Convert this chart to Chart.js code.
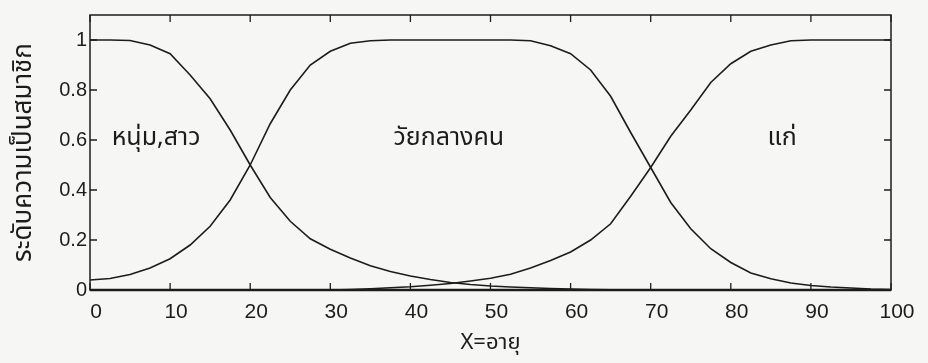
<!DOCTYPE html>
<html>
<head>
<meta charset="utf-8">
<script src="https://cdn.jsdelivr.net/npm/chart.js@4.4.1/dist/chart.umd.min.js"></script>
<style>
  html, body { margin: 0; padding: 0; background: #f6f6f4; }
  #wrap { width: 928px; height: 363px; }
</style>
</head>
<body>
<div id="wrap"><canvas id="c" width="928" height="363"></canvas></div>
<script>
// Age axis (years) and membership degrees of the three fuzzy sets
const ages = [0, 2.5, 5, 7.5, 10, 12.5, 15, 17.5, 20, 22.5, 25, 27.5, 30, 32.5, 35, 37.5, 40,
  42.5, 45, 47.5, 50, 52.5, 55, 57.5, 60, 62.5, 65, 67.5, 70, 72.5, 75, 77.5, 80, 82.5, 85,
  87.5, 90, 92.5, 95, 97.5, 100];

const young = [1, 1, 0.998, 0.98, 0.945, 0.86, 0.765, 0.64, 0.5, 0.37, 0.275, 0.205, 0.163,
  0.128, 0.097, 0.074, 0.056, 0.042, 0.03, 0.022, 0.016, 0.012, 0.009, 0.006, 0.004, 0.002,
  0.001, 0, 0, 0, 0, 0, 0, 0, 0, 0, 0, 0, 0, 0, 0];

const middleAged = [0.04, 0.046, 0.062, 0.088, 0.125, 0.18, 0.255, 0.36, 0.5, 0.665, 0.8, 0.9,
  0.955, 0.987, 0.997, 1, 1, 1, 1, 1, 1, 1, 0.997, 0.977, 0.945, 0.88, 0.775, 0.63, 0.49, 0.35,
  0.245, 0.165, 0.11, 0.068, 0.045, 0.028, 0.018, 0.012, 0.008, 0.004, 0.002];

const old = [0, 0, 0, 0, 0, 0, 0, 0, 0, 0, 0, 0, 0, 0.002, 0.005, 0.009, 0.013, 0.019, 0.026,
  0.036, 0.047, 0.063, 0.088, 0.118, 0.152, 0.2, 0.265, 0.375, 0.49, 0.615, 0.72, 0.83, 0.905,
  0.955, 0.98, 0.997, 1, 1, 1, 1, 1];

// Set names written inside the plot, placed at (age, membership)
const setNames = ['หนุ่ม,สาว', 'วัยกลางคน', 'แก่'];
const setNameAges = [2.7, 44.8, 86.4];
const setNameLevels = [0.6, 0.6, 0.6];

const xTicks = [0, 10, 20, 30, 40, 50, 60, 70, 80, 90, 100];
const yTicks = [0, 0.2, 0.4, 0.6, 0.8, 1];

const xTitle = 'X=อายุ';
const yTitle = 'ระดับความเป็นสมาชิก';

const INK = '#1c1c1c';
const LATIN = '"Liberation Sans", Arial, sans-serif';
const THAI = '"Noto Sans Thai", "Noto Sans", "Liberation Sans", sans-serif';

function series(values) {
  return values.map((v, i) => ({ x: ages[i], y: v }));
}

// Boxed frame with inward tick marks on all four sides, plus the set names
const framePlugin = {
  id: 'frame',
  afterDatasetsDraw(chart) {
    const { ctx, chartArea: a, scales } = chart;
    const xs = scales.x, ys = scales.y;
    ctx.save();
    ctx.strokeStyle = INK;
    ctx.lineWidth = 1.5;
    ctx.strokeRect(a.left, a.top, a.right - a.left, a.bottom - a.top);
    ctx.lineWidth = 1.3;
    const len = 7;
    ctx.beginPath();
    xTicks.forEach(v => {
      const px = xs.getPixelForValue(v);
      ctx.moveTo(px, a.bottom); ctx.lineTo(px, a.bottom - len);
      ctx.moveTo(px, a.top); ctx.lineTo(px, a.top + len);
    });
    yTicks.forEach(v => {
      const py = ys.getPixelForValue(v);
      ctx.moveTo(a.left, py); ctx.lineTo(a.left + len, py);
      ctx.moveTo(a.right, py); ctx.lineTo(a.right - len, py);
    });
    ctx.stroke();
    // bottom edge drawn a little heavier
    ctx.lineWidth = 2.5;
    ctx.beginPath();
    ctx.moveTo(a.left, a.bottom); ctx.lineTo(a.right, a.bottom);
    ctx.stroke();

    ctx.fillStyle = INK;
    ctx.font = '25px ' + THAI;
    ctx.textBaseline = 'middle';
    setNames.forEach((name, i) => {
      const px = xs.getPixelForValue(setNameAges[i]);
      const py = ys.getPixelForValue(setNameLevels[i]);
      ctx.textAlign = i === 0 ? 'left' : 'center';
      ctx.fillText(name, px, py);
    });
    ctx.restore();
  }
};

new Chart(document.getElementById('c'), {
  type: 'line',
  data: {
    datasets: [
      { label: setNames[0], data: series(young) },
      { label: setNames[1], data: series(middleAged) },
      { label: setNames[2], data: series(old) }
    ].map(d => Object.assign(d, {
      borderColor: INK, borderWidth: 1.6, pointRadius: 0, tension: 0, fill: false
    }))
  },
  options: {
    responsive: false,
    animation: false,
    layout: { padding: { left: 0, top: 13, right: 37, bottom: 0 } },
    plugins: { legend: { display: false }, tooltip: { enabled: false } },
    scales: {
      x: {
        type: 'linear', min: 0, max: 100,
        afterBuildTicks(s) { s.ticks = xTicks.map(v => ({ value: v })); },
        afterFit(s) { s.height = 73; },
        grid: { display: false, drawTicks: false },
        border: { display: false },
        ticks: { color: INK, font: { family: LATIN, size: 21 }, padding: 10, labelOffset: 6, maxRotation: 0 },
        title: { display: true, text: xTitle, color: INK, font: { family: THAI, size: 22 }, padding: { top: 0, bottom: 5 } }
      },
      y: {
        min: 0, max: 1.1,
        afterBuildTicks(s) { s.ticks = yTicks.map(v => ({ value: v })); },
        afterFit(s) { s.width = 90; },
        grid: { display: false, drawTicks: false },
        border: { display: false },
        ticks: {
          color: INK, font: { family: LATIN, size: 20 }, padding: 3,
          callback: v => String(Math.round(v * 10) / 10)
        },
        title: { display: true, text: yTitle, color: INK, font: { family: THAI, size: 26 }, padding: { top: 10, bottom: 0 } }
      }
    }
  },
  plugins: [framePlugin]
});
</script>
</body>
</html>
